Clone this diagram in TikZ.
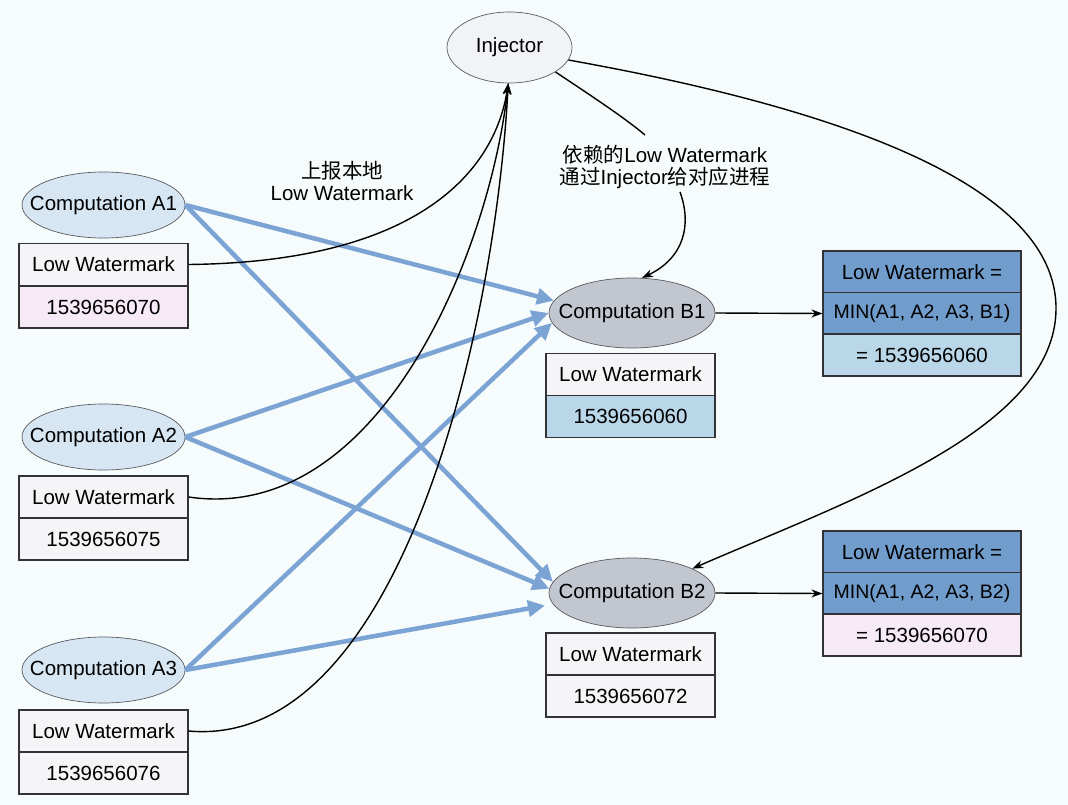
\documentclass[tikz,border=0pt]{standalone}
\usepackage{fontspec}
\setmainfont{Liberation Sans}
\newfontfamily\cjk{Noto Sans CJK SC}
\usetikzlibrary{shapes.geometric,arrows.meta}

\definecolor{bg}{RGB}{246,251,252}
\definecolor{aFill}{RGB}{214,230,243}
\definecolor{injFill}{RGB}{242,243,246}
\definecolor{bFill}{RGB}{194,198,206}
\definecolor{cellTop}{RGB}{245,245,247}
\definecolor{cellPink}{RGB}{245,234,246}
\definecolor{cellBlue}{RGB}{186,215,234}
\definecolor{cellMid}{RGB}{113,157,205}
\definecolor{flowBlue}{RGB}{123,163,211}
\definecolor{edgeGray}{RGB}{90,90,95}
\definecolor{cellLine}{RGB}{50,50,55}

\tikzset{
  procA/.style={ellipse, draw=edgeGray, line width=0.7pt, fill=aFill,
    minimum width=163pt, minimum height=66pt, inner xsep=-17pt, inner ysep=0pt},
  procB/.style={ellipse, draw=edgeGray, line width=0.7pt, fill=bFill,
    minimum width=166pt, minimum height=70pt, inner xsep=-16pt, inner ysep=0pt},
  injector/.style={ellipse, draw=edgeGray, line width=0.7pt, fill=injFill,
    minimum width=125pt, minimum height=71pt, inner sep=0pt},
  cell/.style={rectangle, draw=cellLine, line width=1.1pt, fill=cellTop,
    minimum width=169pt, minimum height=42pt, inner sep=0pt},
  wide/.style={cell, minimum width=198pt},
  formula/.style={wide, fill=cellMid, font=\fontsize{19.5}{22}\selectfont},
  note/.style={align=center, inner sep=0pt},
  flow/.style={line width=4.5pt, draw=flowBlue,
    -{Triangle[length=17pt,width=16pt]}},
  feed/.style={line width=1.4pt, draw=black,
    -{Stealth[length=11pt,width=8pt]}},
}

\begin{document}
\begin{tikzpicture}[x=1pt,y=-1pt,font=\fontsize{20.5}{22}\selectfont]
  \useasboundingbox[fill=bg] (0,0) rectangle (1068,805);

  % injector
  \node[injector] (inj) at (509.5,47.5) {Injector};

  % upstream computations A1..A3 with their watermarks
  \node[procA] (a1) at (103.5,205) {Computation A1};
  \node[cell] (a1lw) at (103.5,264.5) {Low Watermark};
  \node[cell,fill=cellPink] (a1v) at (103.5,307) {1539656070};

  \node[procA] (a2) at (103.5,437) {Computation A2};
  \node[cell] (a2lw) at (103.5,497) {Low Watermark};
  \node[cell] (a2v) at (103.5,539) {1539656075};

  \node[procA] (a3) at (103.5,670) {Computation A3};
  \node[cell] (a3lw) at (103.5,731) {Low Watermark};
  \node[cell] (a3v) at (103.5,773) {1539656076};

  % downstream computations B1, B2
  \node[procB] (b1) at (632,313) {Computation B1};
  \node[cell] (b1lw) at (630.5,374.5) {Low Watermark};
  \node[cell,fill=cellBlue] (b1v) at (630.5,416.5) {1539656060};

  \node[procB] (b2) at (632,593) {Computation B2};
  \node[cell] (b2lw) at (630.5,654) {Low Watermark};
  \node[cell] (b2v) at (630.5,696) {1539656072};

  % resulting watermark tables
  \node[wide,fill=cellMid] (r1h) at (922,272) {Low Watermark =};
  \node[formula] (r1m) at (922,313.5) {MIN(A1, A2, A3, B1)};
  \node[wide,fill=cellBlue] (r1v) at (922,355) {= 1539656060};

  \node[wide,fill=cellMid] (r2h) at (922,552) {Low Watermark =};
  \node[formula] (r2m) at (922,593.5) {MIN(A1, A2, A3, B2)};
  \node[wide,fill=cellPink] (r2v) at (922,635) {= 1539656070};

  % labels
  \node[note] (lblA) at (342,181) {{\cjk 上报本地}\\Low Watermark};
  \node[note] (lblB) at (665,167) {{\cjk 依赖的}Low Watermark\\{\cjk 通过}Injector{\cjk 给对应进程}};

  % data flow A -> B
  \draw[flow] (a1.east) -- (b1.171);
  \draw[flow] (a1.east) -- (b2.172);
  \draw[flow] (a2.east) -- (b1.180);
  \draw[flow] (a2.east) -- (b2.177);
  \draw[flow] (a3.east) -- (b1.187);
  \draw[flow,shorten >=8pt] (a3.east) -- (b2.188);

  % reporting local watermarks to the injector
  \draw[feed] (a1lw.east) .. controls (420,262) and (495,170) .. (inj.268);
  \draw[feed] (a2lw.east) .. controls (380,525) and (490,250) .. (inj.268);
  \draw[feed] (a3lw.east) .. controls (400,750) and (495,330) .. (inj.268);

  % injector hands dependent watermarks to B1 and B2
  \draw[line width=1.4pt] (inj.-28) .. controls (590,95) and (625,118) .. ([xshift=-20pt,yshift=10pt]lblB.north);
  \draw[feed] ([xshift=15pt,yshift=-3pt]lblB.south) .. controls (692,225) and (684,258) .. (b1.74);
  \draw[feed] (inj.-12) .. controls (820,105) and (1058,180) .. (1056,310)
              .. controls (1054,430) and (850,500) .. (b2.22);

  % watermark results
  \draw[feed] (b1.east) -- (r1m.west);
  \draw[feed] (b2.east) -- (r2m.west);
\end{tikzpicture}
\end{document}
